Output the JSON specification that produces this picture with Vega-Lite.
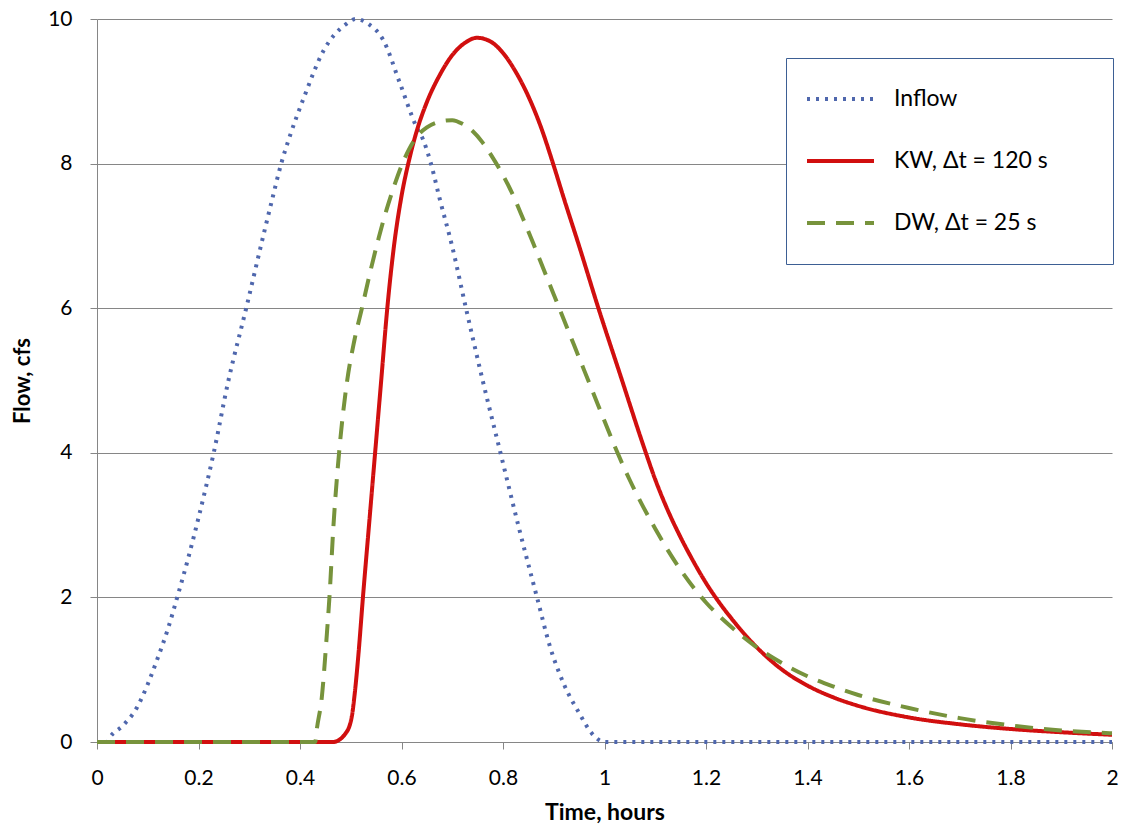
{
  "$schema": "https://vega.github.io/schema/vega-lite/v6.json",
  "width": 1015,
  "height": 723,
  "autosize": "none",
  "padding": {"left": 97, "top": 19, "right": 15, "bottom": 95},
  "background": "white",
  "config": {"view": {"stroke": null}, "font": "Lato"},
  "data": {"values": [
    {"t": 0, "q": 0, "s": "Inflow"},
    {"t": 0.02, "q": 0, "s": "Inflow"},
    {"t": 0.026, "q": 0.07, "s": "Inflow"},
    {"t": 0.05, "q": 0.22, "s": "Inflow"},
    {"t": 0.079, "q": 0.48, "s": "Inflow"},
    {"t": 0.1, "q": 0.8, "s": "Inflow"},
    {"t": 0.118, "q": 1.13, "s": "Inflow"},
    {"t": 0.14, "q": 1.57, "s": "Inflow"},
    {"t": 0.158, "q": 2.0, "s": "Inflow"},
    {"t": 0.18, "q": 2.55, "s": "Inflow"},
    {"t": 0.2, "q": 3.1, "s": "Inflow"},
    {"t": 0.23, "q": 4.0, "s": "Inflow"},
    {"t": 0.259, "q": 5.0, "s": "Inflow"},
    {"t": 0.294, "q": 6.0, "s": "Inflow"},
    {"t": 0.329, "q": 7.04, "s": "Inflow"},
    {"t": 0.345, "q": 7.5, "s": "Inflow"},
    {"t": 0.363, "q": 8.0, "s": "Inflow"},
    {"t": 0.38, "q": 8.38, "s": "Inflow"},
    {"t": 0.408, "q": 8.92, "s": "Inflow"},
    {"t": 0.447, "q": 9.57, "s": "Inflow"},
    {"t": 0.489, "q": 9.92, "s": "Inflow"},
    {"t": 0.51, "q": 10.0, "s": "Inflow"},
    {"t": 0.535, "q": 9.93, "s": "Inflow"},
    {"t": 0.564, "q": 9.71, "s": "Inflow"},
    {"t": 0.597, "q": 9.11, "s": "Inflow"},
    {"t": 0.63, "q": 8.5, "s": "Inflow"},
    {"t": 0.642, "q": 8.34, "s": "Inflow"},
    {"t": 0.658, "q": 8.0, "s": "Inflow"},
    {"t": 0.675, "q": 7.52, "s": "Inflow"},
    {"t": 0.7, "q": 6.85, "s": "Inflow"},
    {"t": 0.727, "q": 6.0, "s": "Inflow"},
    {"t": 0.76, "q": 5.0, "s": "Inflow"},
    {"t": 0.795, "q": 4.0, "s": "Inflow"},
    {"t": 0.83, "q": 3.0, "s": "Inflow"},
    {"t": 0.867, "q": 2.0, "s": "Inflow"},
    {"t": 0.893, "q": 1.31, "s": "Inflow"},
    {"t": 0.92, "q": 0.8, "s": "Inflow"},
    {"t": 0.95, "q": 0.4, "s": "Inflow"},
    {"t": 0.975, "q": 0.12, "s": "Inflow"},
    {"t": 1.0, "q": 0, "s": "Inflow"},
    {"t": 2.0, "q": 0, "s": "Inflow"},
    {"t": 0, "q": 0, "s": "KW, Δt = 120 s"},
    {"t": 0.465, "q": 0, "s": "KW, Δt = 120 s"},
    {"t": 0.49, "q": 0.12, "s": "KW, Δt = 120 s"},
    {"t": 0.502, "q": 0.35, "s": "KW, Δt = 120 s"},
    {"t": 0.508, "q": 0.68, "s": "KW, Δt = 120 s"},
    {"t": 0.515, "q": 1.2, "s": "KW, Δt = 120 s"},
    {"t": 0.524, "q": 2.0, "s": "KW, Δt = 120 s"},
    {"t": 0.536, "q": 3.0, "s": "KW, Δt = 120 s"},
    {"t": 0.548, "q": 4.0, "s": "KW, Δt = 120 s"},
    {"t": 0.56, "q": 5.0, "s": "KW, Δt = 120 s"},
    {"t": 0.572, "q": 6.0, "s": "KW, Δt = 120 s"},
    {"t": 0.585, "q": 6.85, "s": "KW, Δt = 120 s"},
    {"t": 0.6, "q": 7.55, "s": "KW, Δt = 120 s"},
    {"t": 0.615, "q": 8.05, "s": "KW, Δt = 120 s"},
    {"t": 0.63, "q": 8.45, "s": "KW, Δt = 120 s"},
    {"t": 0.65, "q": 8.85, "s": "KW, Δt = 120 s"},
    {"t": 0.675, "q": 9.22, "s": "KW, Δt = 120 s"},
    {"t": 0.7, "q": 9.5, "s": "KW, Δt = 120 s"},
    {"t": 0.725, "q": 9.67, "s": "KW, Δt = 120 s"},
    {"t": 0.749, "q": 9.74, "s": "KW, Δt = 120 s"},
    {"t": 0.775, "q": 9.69, "s": "KW, Δt = 120 s"},
    {"t": 0.8, "q": 9.53, "s": "KW, Δt = 120 s"},
    {"t": 0.825, "q": 9.27, "s": "KW, Δt = 120 s"},
    {"t": 0.85, "q": 8.93, "s": "KW, Δt = 120 s"},
    {"t": 0.875, "q": 8.5, "s": "KW, Δt = 120 s"},
    {"t": 0.9, "q": 7.97, "s": "KW, Δt = 120 s"},
    {"t": 0.919, "q": 7.54, "s": "KW, Δt = 120 s"},
    {"t": 0.95, "q": 6.86, "s": "KW, Δt = 120 s"},
    {"t": 0.988, "q": 6.0, "s": "KW, Δt = 120 s"},
    {"t": 1.03, "q": 5.1, "s": "KW, Δt = 120 s"},
    {"t": 1.08, "q": 4.03, "s": "KW, Δt = 120 s"},
    {"t": 1.1, "q": 3.63, "s": "KW, Δt = 120 s"},
    {"t": 1.125, "q": 3.2, "s": "KW, Δt = 120 s"},
    {"t": 1.15, "q": 2.83, "s": "KW, Δt = 120 s"},
    {"t": 1.175, "q": 2.5, "s": "KW, Δt = 120 s"},
    {"t": 1.2, "q": 2.2, "s": "KW, Δt = 120 s"},
    {"t": 1.225, "q": 1.94, "s": "KW, Δt = 120 s"},
    {"t": 1.25, "q": 1.71, "s": "KW, Δt = 120 s"},
    {"t": 1.3, "q": 1.31, "s": "KW, Δt = 120 s"},
    {"t": 1.35, "q": 1.0, "s": "KW, Δt = 120 s"},
    {"t": 1.4, "q": 0.78, "s": "KW, Δt = 120 s"},
    {"t": 1.45, "q": 0.62, "s": "KW, Δt = 120 s"},
    {"t": 1.5, "q": 0.5, "s": "KW, Δt = 120 s"},
    {"t": 1.6, "q": 0.34, "s": "KW, Δt = 120 s"},
    {"t": 1.7, "q": 0.245, "s": "KW, Δt = 120 s"},
    {"t": 1.8, "q": 0.18, "s": "KW, Δt = 120 s"},
    {"t": 1.9, "q": 0.135, "s": "KW, Δt = 120 s"},
    {"t": 2.0, "q": 0.1, "s": "KW, Δt = 120 s"},
    {"t": 0, "q": 0, "s": "DW, Δt = 25 s"},
    {"t": 0.43, "q": 0, "s": "DW, Δt = 25 s"},
    {"t": 0.433, "q": 0.17, "s": "DW, Δt = 25 s"},
    {"t": 0.443, "q": 0.62, "s": "DW, Δt = 25 s"},
    {"t": 0.453, "q": 1.5, "s": "DW, Δt = 25 s"},
    {"t": 0.458, "q": 2.0, "s": "DW, Δt = 25 s"},
    {"t": 0.466, "q": 3.0, "s": "DW, Δt = 25 s"},
    {"t": 0.477, "q": 4.0, "s": "DW, Δt = 25 s"},
    {"t": 0.493, "q": 5.0, "s": "DW, Δt = 25 s"},
    {"t": 0.507, "q": 5.55, "s": "DW, Δt = 25 s"},
    {"t": 0.522, "q": 6.0, "s": "DW, Δt = 25 s"},
    {"t": 0.54, "q": 6.55, "s": "DW, Δt = 25 s"},
    {"t": 0.555, "q": 6.97, "s": "DW, Δt = 25 s"},
    {"t": 0.57, "q": 7.35, "s": "DW, Δt = 25 s"},
    {"t": 0.585, "q": 7.68, "s": "DW, Δt = 25 s"},
    {"t": 0.6, "q": 7.97, "s": "DW, Δt = 25 s"},
    {"t": 0.615, "q": 8.2, "s": "DW, Δt = 25 s"},
    {"t": 0.63, "q": 8.37, "s": "DW, Δt = 25 s"},
    {"t": 0.65, "q": 8.5, "s": "DW, Δt = 25 s"},
    {"t": 0.675, "q": 8.58, "s": "DW, Δt = 25 s"},
    {"t": 0.7, "q": 8.6, "s": "DW, Δt = 25 s"},
    {"t": 0.72, "q": 8.55, "s": "DW, Δt = 25 s"},
    {"t": 0.74, "q": 8.45, "s": "DW, Δt = 25 s"},
    {"t": 0.76, "q": 8.29, "s": "DW, Δt = 25 s"},
    {"t": 0.78, "q": 8.08, "s": "DW, Δt = 25 s"},
    {"t": 0.8, "q": 7.84, "s": "DW, Δt = 25 s"},
    {"t": 0.82, "q": 7.56, "s": "DW, Δt = 25 s"},
    {"t": 0.84, "q": 7.23, "s": "DW, Δt = 25 s"},
    {"t": 0.86, "q": 6.89, "s": "DW, Δt = 25 s"},
    {"t": 0.88, "q": 6.54, "s": "DW, Δt = 25 s"},
    {"t": 0.9, "q": 6.19, "s": "DW, Δt = 25 s"},
    {"t": 0.92, "q": 5.84, "s": "DW, Δt = 25 s"},
    {"t": 0.94, "q": 5.49, "s": "DW, Δt = 25 s"},
    {"t": 0.96, "q": 5.14, "s": "DW, Δt = 25 s"},
    {"t": 0.98, "q": 4.79, "s": "DW, Δt = 25 s"},
    {"t": 1.0, "q": 4.44, "s": "DW, Δt = 25 s"},
    {"t": 1.025, "q": 4.01, "s": "DW, Δt = 25 s"},
    {"t": 1.05, "q": 3.62, "s": "DW, Δt = 25 s"},
    {"t": 1.075, "q": 3.27, "s": "DW, Δt = 25 s"},
    {"t": 1.1, "q": 2.95, "s": "DW, Δt = 25 s"},
    {"t": 1.125, "q": 2.65, "s": "DW, Δt = 25 s"},
    {"t": 1.15, "q": 2.38, "s": "DW, Δt = 25 s"},
    {"t": 1.175, "q": 2.14, "s": "DW, Δt = 25 s"},
    {"t": 1.2, "q": 1.93, "s": "DW, Δt = 25 s"},
    {"t": 1.25, "q": 1.59, "s": "DW, Δt = 25 s"},
    {"t": 1.3, "q": 1.31, "s": "DW, Δt = 25 s"},
    {"t": 1.35, "q": 1.09, "s": "DW, Δt = 25 s"},
    {"t": 1.4, "q": 0.91, "s": "DW, Δt = 25 s"},
    {"t": 1.45, "q": 0.77, "s": "DW, Δt = 25 s"},
    {"t": 1.5, "q": 0.65, "s": "DW, Δt = 25 s"},
    {"t": 1.6, "q": 0.47, "s": "DW, Δt = 25 s"},
    {"t": 1.7, "q": 0.33, "s": "DW, Δt = 25 s"},
    {"t": 1.8, "q": 0.23, "s": "DW, Δt = 25 s"},
    {"t": 1.9, "q": 0.16, "s": "DW, Δt = 25 s"},
    {"t": 2.0, "q": 0.12, "s": "DW, Δt = 25 s"}
  ]},
  "mark": {"type": "line", "strokeWidth": 4, "interpolate": "monotone"},
  "encoding": {
    "x": {
      "field": "t", "type": "quantitative",
      "scale": {"domain": [0, 2], "nice": false},
      "axis": {
        "values": [0, 0.2, 0.4, 0.6, 0.8, 1, 1.2, 1.4, 1.6, 1.8, 2],
        "format": "~g", "grid": false, "labelFlush": false, "labelOverlap": false,
        "domainColor": "#868686", "tickColor": "#868686", "tickSize": 7,
        "labelFontSize": 21, "labelPadding": 18, "labelColor": "#000",
        "title": "Time, hours", "titleFontSize": 23, "titleFontWeight": "bold",
        "titlePadding": 13, "titleColor": "#000"
      }
    },
    "y": {
      "field": "q", "type": "quantitative",
      "scale": {"domain": [0, 10], "nice": false},
      "axis": {
        "values": [0, 2, 4, 6, 8, 10], "grid": true, "gridColor": "#868686",
        "domainColor": "#868686", "tickColor": "#868686", "tickSize": 7,
        "labelFontSize": 21, "labelPadding": 18, "labelColor": "#000",
        "title": "Flow, cfs", "titleFontSize": 22, "titleFontWeight": "bold",
        "titlePadding": 13, "titleColor": "#000"
      }
    },
    "color": {
      "field": "s", "type": "nominal",
      "scale": {"domain": ["Inflow", "KW, Δt = 120 s", "DW, Δt = 25 s"], "range": ["#4f67ad", "#d10f0f", "#77933c"]},
      "legend": {
        "title": null, "orient": "none", "legendX": 689, "legendY": 39,
        "padding": 19, "strokeColor": "#3d5f94", "fillColor": "white",
        "symbolType": "stroke", "symbolSize": 4489, "symbolStrokeWidth": 4,
        "clipHeight": 44, "rowPadding": 18, "labelOffset": 18,
        "labelFontSize": 23, "labelColor": "#000",
        "encode": {"entries": {"update": {"width": {"value": 289}}}}
      }
    },
    "strokeDash": {
      "field": "s", "type": "nominal",
      "scale": {"domain": ["Inflow", "KW, Δt = 120 s", "DW, Δt = 25 s"], "range": [[3, 6], [1, 0], [18, 11]]}
    }
  }
}
